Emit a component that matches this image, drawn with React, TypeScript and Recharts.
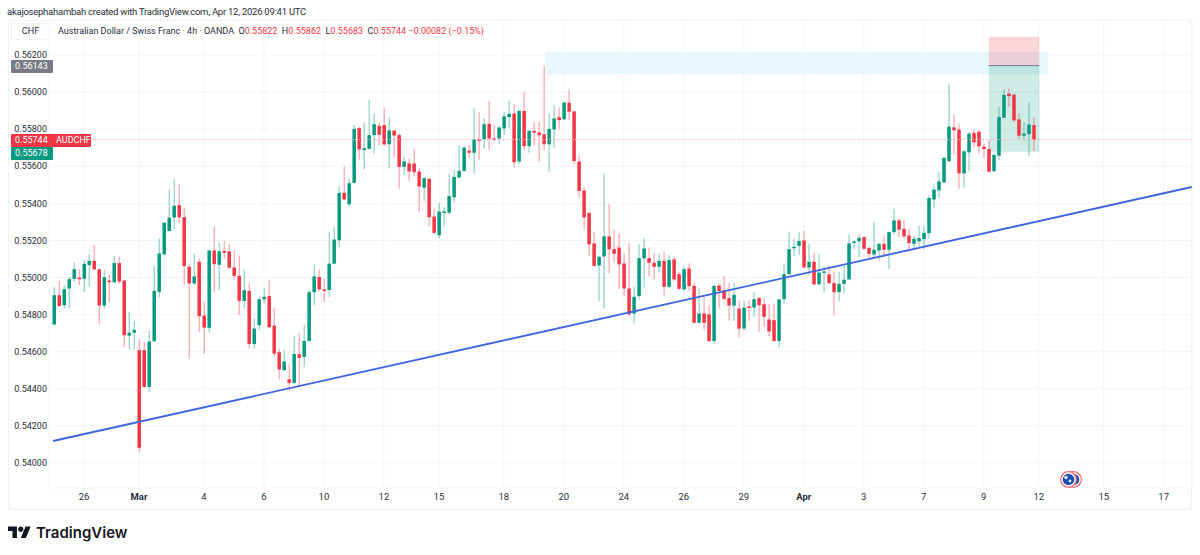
import {
  ComposedChart,
  Bar,
  XAxis,
  YAxis,
  CartesianGrid,
  ReferenceLine,
  ReferenceArea,
} from "recharts";

const UP = "#089981";
const DOWN = "#f23645";
const FONT = "Roboto, 'Noto Sans', sans-serif";

// AUD/CHF 4h candles
const opens = [
  0.54747,0.54905,0.54851,0.54941,0.54993,0.55000,0.54993,0.55067,0.55090,0.55045,0.54849,0.54984,0.54975,0.55078,0.54984,0.54687,0.54702,0.54608,0.54608,0.54410,
  0.54657,0.54923,0.55125,0.55251,0.55324,0.55391,0.55326,0.55058,0.54968,0.55085,0.54795,0.54729,0.55146,0.55069,0.55144,0.55141,0.55054,0.55009,0.54874,0.54928,
  0.54642,0.54743,0.54883,0.54900,0.54741,0.54597,0.54500,0.54451,0.54432,0.54586,0.54572,0.54658,0.54921,0.55003,0.54936,0.54933,0.55075,0.55201,0.55457,0.55395,
  0.55511,0.55806,0.55687,0.55694,0.55768,0.55818,0.55822,0.55719,0.55793,0.55768,0.55597,0.55615,0.55615,0.55572,0.55485,0.55532,0.55329,0.55228,0.55352,0.55350,
  0.55433,0.55539,0.55575,0.55685,0.55673,0.55745,0.55745,0.55829,0.55750,0.55750,0.55804,0.55865,0.55885,0.55626,0.55898,0.55709,0.55791,0.55782,0.55773,0.55719,
  0.55799,0.55865,0.55854,0.55943,0.55896,0.55626,0.55469,0.55349,0.55184,0.55065,0.55114,0.55222,0.55153,0.55162,0.55076,0.54941,0.54806,0.54900,0.55103,0.55105,
  0.55080,0.55058,0.55090,0.54950,0.55098,0.55018,0.54936,0.55049,0.54955,0.54756,0.54806,0.54801,0.54658,0.54957,0.54932,0.54889,0.54849,0.54833,0.54725,0.54844,
  0.54838,0.54889,0.54856,0.54774,0.54770,0.54658,0.54883,0.55018,0.55159,0.55171,0.55200,0.55054,0.55085,0.54964,0.55026,0.55017,0.54970,0.54921,0.54966,0.54990,
  0.55186,0.55196,0.55218,0.55160,0.55124,0.55146,0.55182,0.55150,0.55245,0.55308,0.55263,0.55227,0.55182,0.55195,0.55207,0.55240,0.55421,0.55470,0.55513,0.55628,
  0.55810,0.55798,0.55562,0.55675,0.55780,0.55787,0.55706,0.55693,0.55574,0.55657,0.55862,0.55992,0.55987,0.55853,0.55765,0.55773,0.55822,
];
const highs = [
  0.54950,0.54981,0.54959,0.55004,0.55080,0.55047,0.55094,0.55126,0.55175,0.55047,0.55040,0.55018,0.55116,0.55112,0.54986,0.54815,0.54766,0.54667,0.54653,0.54712,
  0.55063,0.55211,0.55296,0.55472,0.55530,0.55504,0.55373,0.55076,0.55130,0.55103,0.54869,0.55148,0.55274,0.55188,0.55198,0.55180,0.55148,0.55119,0.55040,0.54968,
  0.54779,0.54896,0.54941,0.54986,0.54837,0.54617,0.54608,0.54531,0.54684,0.54703,0.54743,0.54932,0.55071,0.55043,0.54994,0.55246,0.55273,0.55489,0.55601,0.55534,
  0.55822,0.55813,0.55835,0.55957,0.55885,0.55835,0.55917,0.55863,0.55795,0.55777,0.55651,0.55642,0.55696,0.55588,0.55539,0.55538,0.55372,0.55403,0.55381,0.55561,
  0.55583,0.55712,0.55709,0.55714,0.55912,0.55892,0.55858,0.55953,0.55822,0.55817,0.55894,0.55953,0.55935,0.55899,0.56002,0.55795,0.55840,0.55840,0.56143,0.55885,
  0.55930,0.55917,0.55944,0.56011,0.55898,0.55660,0.55489,0.55349,0.55247,0.55116,0.55558,0.55396,0.55256,0.55238,0.55130,0.55188,0.54950,0.55180,0.55211,0.55162,
  0.55130,0.55126,0.55139,0.55121,0.55112,0.55031,0.55062,0.55076,0.54972,0.54941,0.54896,0.54851,0.54959,0.54964,0.55008,0.54972,0.54972,0.54878,0.54874,0.54878,
  0.54923,0.54896,0.54887,0.54856,0.54860,0.54882,0.55076,0.55247,0.55211,0.55247,0.55251,0.55184,0.55134,0.55126,0.55062,0.55067,0.55031,0.55031,0.55062,0.55233,
  0.55196,0.55232,0.55222,0.55168,0.55299,0.55186,0.55227,0.55249,0.55371,0.55317,0.55308,0.55263,0.55227,0.55281,0.55277,0.55443,0.55502,0.55569,0.55650,0.56046,
  0.55879,0.55830,0.55686,0.55785,0.55803,0.55794,0.55722,0.55740,0.55672,0.55920,0.56014,0.56019,0.55988,0.55884,0.55839,0.55945,0.55862,
];
const lows = [
  0.54743,0.54842,0.54833,0.54833,0.54977,0.54959,0.54923,0.54950,0.55040,0.54748,0.54833,0.54869,0.54968,0.54968,0.54626,0.54612,0.54612,0.54059,0.54406,0.54383,
  0.54653,0.54892,0.55121,0.55247,0.55260,0.55292,0.54959,0.54563,0.54959,0.54707,0.54590,0.54703,0.54923,0.54932,0.55103,0.55044,0.54986,0.54797,0.54833,0.54617,
  0.54617,0.54716,0.54860,0.54725,0.54576,0.54450,0.54500,0.54388,0.54424,0.54406,0.54518,0.54655,0.54851,0.54922,0.54868,0.54895,0.55071,0.55161,0.55417,0.55381,
  0.55507,0.55637,0.55583,0.55691,0.55669,0.55714,0.55714,0.55588,0.55651,0.55480,0.55552,0.55521,0.55547,0.55354,0.55413,0.55273,0.55233,0.55210,0.55277,0.55341,
  0.55408,0.55536,0.55572,0.55647,0.55561,0.55633,0.55696,0.55687,0.55737,0.55719,0.55768,0.55804,0.55593,0.55610,0.55691,0.55673,0.55714,0.55624,0.55687,0.55570,
  0.55700,0.55799,0.55849,0.55849,0.55611,0.55431,0.55259,0.55115,0.55062,0.54874,0.54833,0.55022,0.55080,0.54939,0.54901,0.54792,0.54752,0.54882,0.54946,0.55004,
  0.54991,0.55026,0.54901,0.54941,0.54982,0.54932,0.54928,0.54928,0.54752,0.54752,0.54716,0.54653,0.54640,0.54833,0.54878,0.54766,0.54766,0.54676,0.54716,0.54766,
  0.54788,0.54707,0.54734,0.54684,0.54653,0.54626,0.54860,0.55013,0.55116,0.55121,0.55051,0.55013,0.54959,0.54959,0.54918,0.54964,0.54795,0.54869,0.54914,0.54986,
  0.55155,0.55106,0.55151,0.55106,0.55110,0.55092,0.55110,0.55047,0.55232,0.55218,0.55209,0.55146,0.55155,0.55164,0.55155,0.55209,0.55376,0.55429,0.55510,0.55623,
  0.55664,0.55479,0.55484,0.55574,0.55704,0.55668,0.55646,0.55567,0.55567,0.55632,0.55859,0.55920,0.55839,0.55747,0.55740,0.55654,0.55683,
];
const closes = [
  0.54905,0.54847,0.54937,0.54991,0.55045,0.54991,0.55074,0.55090,0.55044,0.54849,0.55002,0.54975,0.55078,0.54979,0.54689,0.54703,0.54718,0.54082,0.54410,0.54655,
  0.54928,0.55130,0.55296,0.55323,0.55387,0.55324,0.55062,0.54968,0.55006,0.54792,0.54730,0.55146,0.55072,0.55141,0.55134,0.55054,0.55009,0.54874,0.54932,0.54642,
  0.54725,0.54883,0.54896,0.54732,0.54590,0.54504,0.54547,0.54432,0.54588,0.54567,0.54658,0.54921,0.55006,0.54936,0.54933,0.55075,0.55205,0.55457,0.55421,0.55509,
  0.55802,0.55691,0.55698,0.55768,0.55827,0.55770,0.55718,0.55793,0.55766,0.55597,0.55626,0.55572,0.55568,0.55491,0.55536,0.55325,0.55241,0.55356,0.55356,0.55439,
  0.55543,0.55575,0.55701,0.55673,0.55746,0.55739,0.55827,0.55750,0.55745,0.55809,0.55869,0.55883,0.55622,0.55899,0.55709,0.55791,0.55781,0.55768,0.55719,0.55802,
  0.55858,0.55849,0.55944,0.55894,0.55628,0.55467,0.55325,0.55179,0.55063,0.55112,0.55222,0.55152,0.55128,0.55071,0.54941,0.54802,0.54896,0.55105,0.55157,0.55080,
  0.55058,0.55090,0.54950,0.55094,0.54990,0.54939,0.55045,0.54954,0.54756,0.54806,0.54756,0.54658,0.54955,0.54928,0.54885,0.54849,0.54907,0.54725,0.54838,0.54840,
  0.54883,0.54851,0.54788,0.54709,0.54658,0.54882,0.55018,0.55153,0.55166,0.55197,0.55054,0.55085,0.54963,0.55027,0.55033,0.54970,0.54921,0.54966,0.54988,0.55184,
  0.55195,0.55214,0.55155,0.55128,0.55150,0.55182,0.55150,0.55245,0.55308,0.55258,0.55222,0.55186,0.55209,0.55213,0.55241,0.55429,0.55474,0.55519,0.55646,0.55814,
  0.55794,0.55562,0.55681,0.55776,0.55729,0.55708,0.55693,0.55571,0.55661,0.55866,0.55985,0.55978,0.55848,0.55765,0.55776,0.55825,0.55744,
];

const priceTicks = [0.54, 0.542, 0.544, 0.546, 0.548, 0.55, 0.552, 0.554, 0.556, 0.558, 0.56, 0.562];
const dateTickBars = [6, 17, 30, 42, 54, 66, 77, 90, 102, 114, 126, 138, 150, 162, 174, 186, 197, 210, 222];
const dateTickLabels = ["26", "Mar", "4", "6", "10", "12", "15", "18", "20", "24", "26", "29", "Apr", "3", "7", "9", "12", "15", "17"];

const lastPrice = 0.55744;
const entryPrice = 0.56143;
const stopPrice = 0.56299;
const targetPrice = 0.55678;
const zoneTop = 0.56218;
const zoneBottom = 0.56096;
const trendStart = { bar: -0.2, price: 0.541185 };
const trendEnd = { bar: 227.6, price: 0.554882 };

const candles = opens.map((open, i) => ({
  i,
  open,
  high: highs[i],
  low: lows[i],
  close: closes[i],
}));

function Candle(props: any) {
  const { x, y, width, height, payload } = props;
  const { open, high, low, close } = payload;
  const color = close >= open ? UP : DOWN;
  const perUnit = height / (high - low);
  const top = y + (high - Math.max(open, close)) * perUnit;
  const bottom = y + (high - Math.min(open, close)) * perUnit;
  const cx = x + width / 2;
  return (
    <g>
      <line x1={cx} x2={cx} y1={y} y2={y + height} stroke={color} strokeOpacity={0.55} strokeWidth={1} />
      <rect x={x} y={top} width={width} height={Math.max(bottom - top, 1.5)} fill={color} />
    </g>
  );
}

function DateTick({ x, y, payload }: any) {
  const label = dateTickLabels[dateTickBars.indexOf(payload.value)];
  const isMonth = label === "Mar" || label === "Apr";
  return (
    <text x={x} y={y} dy={4} textAnchor="middle" fontSize={9.5} fontFamily={FONT} fontWeight={isMonth ? 700 : 400} fill="#2a2e39">
      {label}
    </text>
  );
}

function PriceTag({ top, bg, width, children }: any) {
  return (
    <div
      style={{
        position: "absolute",
        left: 11,
        top,
        width,
        height: 12.5,
        lineHeight: "12.5px",
        background: bg,
        color: "#fff",
        fontSize: 9,
        borderRadius: 1,
        paddingLeft: 4,
        boxSizing: "border-box",
        whiteSpace: "pre",
      }}
    >
      {children}
    </div>
  );
}

export default function App() {
  const red = { color: DOWN };
  return (
    <div style={{ position: "absolute", left: 0, top: 0, width: 1200, height: 555, background: "#fff", fontFamily: FONT, overflow: "hidden" }}>
      <div style={{ position: "absolute", left: 8, top: 20, width: 1184, height: 490, border: "1px solid #eff1f4", borderRadius: 3, boxSizing: "border-box" }} />
      <div style={{ position: "absolute", left: 0, top: 0 }}>
        <ComposedChart width={1200} height={555} data={candles} margin={{ top: 20, right: 8, bottom: 45, left: 8 }}>
          <CartesianGrid stroke="#f3f4f6" />
          <XAxis
            dataKey="i"
            type="number"
            domain={[-1, 227.66]}
            ticks={dateTickBars}
            interval={0}
            height={22}
            axisLine={false}
            tickLine={false}
            tick={<DateTick />}
            allowDataOverflow
          />
          <YAxis
            type="number"
            domain={[0.53865, 0.56389]}
            ticks={priceTicks}
            interval={0}
            width={41}
            axisLine={false}
            tickLine={false}
            tickSize={0}
            tickMargin={2}
            tickFormatter={(v: number) => v.toFixed(5)}
            tick={{ fontSize: 9, fontFamily: FONT, fill: "#2a2e39" }}
            allowDataOverflow
          />
          <ReferenceArea x1={98.26} x2={198.8} y1={zoneBottom} y2={zoneTop} fill="#e8f7fc" fillOpacity={1} stroke="none" />
          <ReferenceArea x1={187} x2={197.12} y1={entryPrice} y2={stopPrice} fill={DOWN} fillOpacity={0.2} stroke="none" />
          <ReferenceArea x1={187} x2={197.12} y1={targetPrice} y2={entryPrice} fill={UP} fillOpacity={0.2} stroke="none" />
          <ReferenceLine
            segment={[
              { x: 187, y: entryPrice },
              { x: 197.12, y: entryPrice },
            ]}
            stroke="#787b86"
            strokeWidth={1}
          />
          <ReferenceLine y={lastPrice} stroke="#f8b4ba" strokeWidth={1} strokeDasharray="1 1" />
          <Bar dataKey={(d: any) => [d.low, d.high]} barSize={3.5} shape={<Candle />} isAnimationActive={false} />
          <ReferenceLine
            segment={[
              { x: trendStart.bar, y: trendStart.price },
              { x: trendEnd.bar, y: trendEnd.price },
            ]}
            stroke="#3f66dd"
            strokeWidth={1.85}
          />
        </ComposedChart>
      </div>

      {/* header texts */}
      <div style={{ position: "absolute", left: 7, top: 5, fontSize: 9.5, letterSpacing: "-0.25px", lineHeight: "13px", color: "#2a2e39", whiteSpace: "pre" }}>
        akajosephahambah created with TradingView.com, Apr 12, 2026 09:41 UTC
      </div>
      <div style={{ position: "absolute", left: 11, top: 23, width: 39, height: 17, border: "1px solid #eff1f4", borderRadius: 2, boxSizing: "border-box", textAlign: "center", fontSize: 9, lineHeight: "15px", color: "#2a2e39", background: "#fff" }}>
        CHF
      </div>
      <div style={{ position: "absolute", left: 58, top: 25, fontSize: 9, lineHeight: "12px", color: "#2a2e39", whiteSpace: "pre" }}>
        {"Australian Dollar / Swiss Franc · 4h · OANDA  O"}
        <span style={red}>0.55822</span>
        {"  H"}
        <span style={red}>0.55862</span>
        {"  L"}
        <span style={red}>0.55683</span>
        {"  C"}
        <span style={red}>0.55744</span>
        <span style={red}>{" −0.00082 (−0.15%)"}</span>
      </div>

      {/* price tags on the left scale */}
      <PriceTag top={60} bg="#787b86" width={41.5}>0.56143</PriceTag>
      <PriceTag top={134} bg={DOWN} width={80}>
        0.55744
        <span style={{ position: "absolute", left: 45 }}>AUDCHF</span>
      </PriceTag>
      <PriceTag top={147} bg={UP} width={41.5}>0.55678</PriceTag>

      {/* flag icon */}
      <svg style={{ position: "absolute", left: 1058, top: 469 }} width={27} height={21}>
        <circle cx={15.5} cy={10.5} r={7.8} fill="#fff" stroke="#ef6b78" strokeWidth={1.2} />
        <circle cx={15.5} cy={10.5} r={5.8} fill="#1d4faf" />
        <circle cx={10.5} cy={10.5} r={7.8} fill="#fff" stroke="#ef6b78" strokeWidth={1.2} />
        <circle cx={10.5} cy={10.5} r={5.8} fill="#1d4faf" />
        <circle cx={8} cy={8.5} r={1.8} fill="#dfe8f8" />
        <circle cx={12} cy={12} r={1.4} fill="#dfe8f8" />
      </svg>

      {/* TradingView mark */}
      <svg style={{ position: "absolute", left: 8, top: 523.5 }} width={23} height={18} viewBox="0 0 36 28">
        <path d="M14 22H7V11H0V4h14v18zM28 22h-8l7.5-18h8L28 22z" fill="#131722" />
        <circle cx={20} cy={8} r={4} fill="#131722" />
      </svg>
      <div style={{ position: "absolute", left: 36, top: 522, fontFamily: "Inter, Roboto, sans-serif", fontSize: 15, fontWeight: 600, lineHeight: "21px", color: "#131722" }}>
        TradingView
      </div>
    </div>
  );
}
